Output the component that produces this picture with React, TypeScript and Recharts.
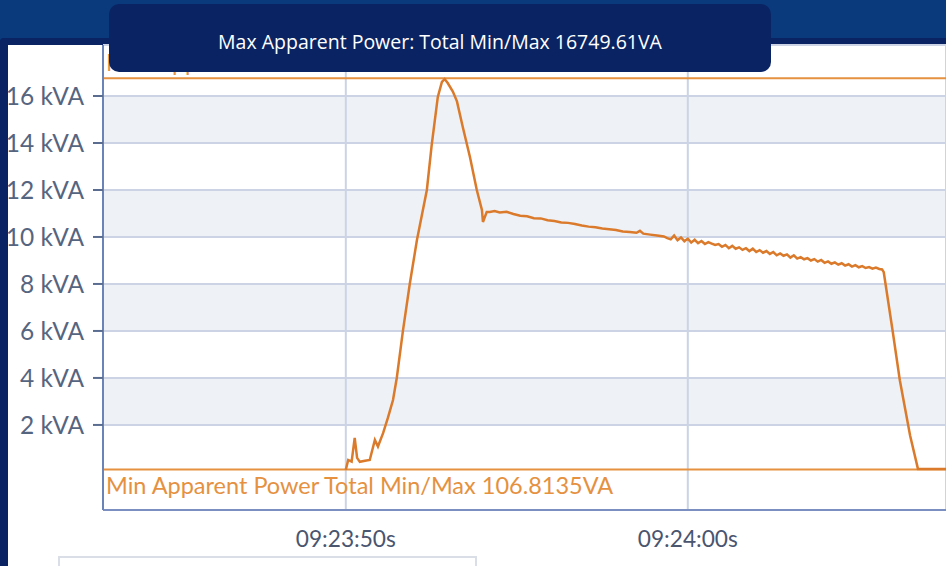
import React from "react"
import {
  LineChart,
  Line,
  XAxis,
  YAxis,
  CartesianGrid,
  ReferenceLine,
} from "recharts"

// seconds after 09:23:00
const times = [
  50.0, 50.07, 50.17, 50.26, 50.33, 50.41, 50.56, 50.7, 50.85, 50.94, 51.09, 51.23,
  51.38, 51.49, 51.67, 51.87, 52.08, 52.37, 52.51, 52.69, 52.81, 52.89, 52.98, 53.13,
  53.25, 53.42, 53.63, 53.83, 53.98, 54.01, 54.12, 54.21, 54.35, 54.5, 54.7, 54.9,
  55.1, 55.3, 55.5, 55.7, 55.9, 56.1, 56.3, 56.5, 56.7, 56.9, 57.1, 57.3, 57.5, 57.7,
  57.9, 58.1, 58.3, 58.5, 58.6, 58.7, 58.9, 59.1, 59.3,
  59.4, 59.5, 59.6, 59.7, 59.8, 59.9, 60.0, 60.1, 60.2, 60.3, 60.4, 60.5, 60.6, 60.7,
  60.8, 60.9, 61.0, 61.1, 61.2, 61.3, 61.4, 61.5, 61.6, 61.7, 61.8, 61.9, 62.0, 62.1,
  62.2, 62.3, 62.4, 62.5, 62.6, 62.7, 62.8, 62.9, 63.0, 63.1, 63.2, 63.3, 63.4, 63.5,
  63.6, 63.7, 63.8, 63.9, 64.0, 64.1, 64.2, 64.3, 64.4, 64.5, 64.6, 64.7, 64.8, 64.9,
  65.0, 65.1, 65.2, 65.3, 65.4, 65.5, 65.6, 65.68,
  65.73, 65.99, 66.2, 66.5, 66.73, 67.6,
]

// apparent power, kVA
const power = [
  0.09, 0.51, 0.44, 1.45, 0.6, 0.43, 0.48, 0.51, 1.36, 1.08, 1.65, 2.3,
  3.06, 4.0, 6.0, 8.0, 9.87, 12.0, 13.9, 15.96, 16.6, 16.72, 16.55, 16.19,
  15.77, 14.68, 13.4, 12.0, 11.15, 10.64, 11.06, 11.06, 11.1, 11.04, 11.07, 10.98,
  10.9, 10.88, 10.8, 10.79, 10.71, 10.68, 10.62, 10.6, 10.55, 10.49, 10.44, 10.41, 10.36, 10.33,
  10.3, 10.23, 10.21, 10.18, 10.26, 10.14, 10.1, 10.06, 10.02,
  9.95, 9.9, 10.06, 9.86, 9.98, 9.82, 9.93, 9.76, 9.88, 9.74, 9.83, 9.7, 9.78, 9.72,
  9.66, 9.7, 9.58, 9.66, 9.52, 9.62, 9.5, 9.56, 9.45, 9.52, 9.4, 9.5, 9.36, 9.44,
  9.33, 9.4, 9.28, 9.36, 9.22, 9.3, 9.2, 9.26, 9.12, 9.22, 9.08, 9.14, 9.05, 9.1,
  9.0, 9.06, 8.95, 9.02, 8.9, 8.96, 8.86, 8.92, 8.82, 8.88, 8.78, 8.84, 8.74, 8.8,
  8.71, 8.76, 8.68, 8.72, 8.65, 8.7, 8.64, 8.62,
  8.5, 6.0, 3.9, 1.55, 0.13, 0.13,
]

const yTicks = [2, 4, 6, 8, 10, 12, 14, 16]
const xTicks = [50, 60]
const xTickLabels = ["09:23:50s", "09:24:00s"]

const maxValue = 16.74961
const minValue = 0.1068135
const title = "Max Apparent Power: Total Min/Max 16749.61VA"
const maxLabel = "Max Apparent Power Total Min/Max 16749.61VA"
const minLabel = "Min Apparent Power Total Min/Max 106.8135VA"

const data = times.map((t, i) => ({ t, kva: power[i] }))

const ORANGE = "#db7a2a"
const REF_ORANGE = "#e5913f"

function MaxLabel(props: any) {
  const { viewBox } = props
  return (
    <text x={viewBox.x + 3} y={viewBox.y - 7} fill={REF_ORANGE} fontSize={23.5} fontFamily="Lato">
      {maxLabel}
    </text>
  )
}

function MinLabel(props: any) {
  const { viewBox } = props
  return (
    <text x={viewBox.x + 3} y={viewBox.y + 25} fill={REF_ORANGE} fontSize={23.5} fontFamily="Lato">
      {minLabel}
    </text>
  )
}

export default function App() {
  return (
    <div
      style={{
        position: "fixed",
        left: 0,
        top: 0,
        width: 946,
        height: 566,
        overflow: "hidden",
        background: "#0b3a7c",
      }}
    >
      <div
        style={{
          position: "absolute",
          left: 0,
          top: 38,
          width: 980,
          height: 560,
          background: "#fff",
          borderTop: "7px solid #0a2463",
          borderLeft: "8px solid #0a2463",
          borderTopLeftRadius: 4,
          boxSizing: "border-box",
        }}
      />
      <div
        style={{
          position: "absolute",
          left: 58,
          top: 556,
          width: 415,
          height: 30,
          border: "2px solid #dadee6",
        }}
      />
      <div style={{ position: "absolute", left: 0, top: 0 }}>
        <LineChart
          width={946}
          height={566}
          data={data}
          margin={{ top: 45, right: 0, bottom: 16, left: 0 }}
        >
          <CartesianGrid
            stroke="#cbd3e4"
            strokeWidth={2}
            horizontalFill={["transparent", "#eef1f6"]}
            fillOpacity={1}
          />
          <XAxis
            type="number"
            dataKey="t"
            domain={[42.9, 67.55]}
            ticks={xTicks}
            tickFormatter={(v: number) => xTickLabels[xTicks.indexOf(v)]}
            height={40}
            tickLine={false}
            tickSize={0}
            tickMargin={21}
            axisLine={{ stroke: "#7b8fc0", strokeWidth: 2 }}
            tick={{ fill: "#4a556f", fontSize: 22.7, fontFamily: "Lato" }}
            allowDataOverflow
          />
          <YAxis
            type="number"
            domain={[-1.62, 18.17]}
            ticks={yTicks}
            tickFormatter={(v: number) => `${v} kVA`}
            width={103}
            tickSize={10}
            tickMargin={9}
            tickLine={{ stroke: "#5a6d91", strokeWidth: 2 }}
            axisLine={{ stroke: "#6a84b8", strokeWidth: 2 }}
            tick={{ fill: "#56657f", fontSize: 24.5, fontFamily: "Lato" }}
            allowDataOverflow
          />
          <ReferenceLine y={maxValue} stroke={REF_ORANGE} strokeWidth={2} label={<MaxLabel />} />
          <ReferenceLine y={minValue} stroke={REF_ORANGE} strokeWidth={2} label={<MinLabel />} />
          <Line
            type="linear"
            dataKey="kva"
            stroke={ORANGE}
            strokeWidth={2.5}
            dot={false}
            isAnimationActive={false}
          />
        </LineChart>
      </div>
      <div
        style={{
          position: "absolute",
          left: 109,
          top: 4,
          width: 662,
          height: 68,
          background: "#0a2463",
          borderRadius: 10,
          color: "#fff",
          fontFamily: "'Open Sans'",
          fontSize: 19.5,
          display: "flex",
          alignItems: "center",
          justifyContent: "center",
          paddingTop: 6,
          boxSizing: "border-box",
        }}
      >
        {title}
      </div>
    </div>
  )
}
